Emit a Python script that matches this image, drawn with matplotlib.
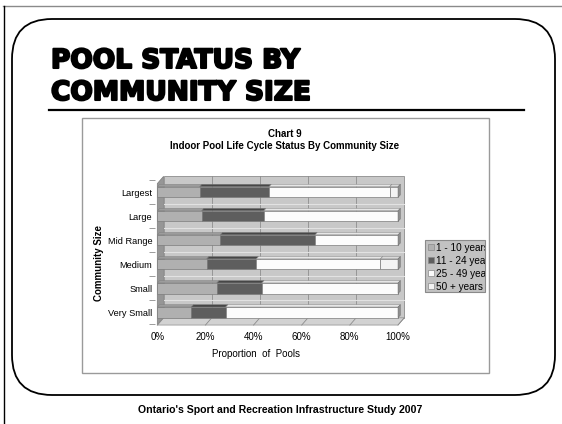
import matplotlib
matplotlib.use("Agg")
import matplotlib.pyplot as plt
import matplotlib.patheffects as pe
from matplotlib.patches import Rectangle, Polygon, FancyBboxPatch, Patch
import numpy as np

plt.rcParams['font.family'] = ['Liberation Sans', 'DejaVu Sans']

# data (percent of pools per community size), top to bottom as drawn
categories = ['Largest', 'Large', 'Mid Range', 'Medium', 'Small', 'Very Small']
age_groups = ['1 - 10 years', '11 - 24 years', '25 - 49 years', '50 + years']
yrs_1_10 = [17.6, 18.4, 26.2, 20.5, 24.7, 14.1]
yrs_11_24 = [28.8, 25.8, 39.3, 20.6, 18.7, 14.3]
yrs_25_49 = [50.1, 55.8, 34.5, 51.6, 56.6, 71.6]
yrs_50_up = [3.5, 0.0, 0.0, 7.3, 0.0, 0.0]
x_ticks = [0, 20, 40, 60, 80, 100]
x_tick_labels = ['0%', '20%', '40%', '60%', '80%', '100%']

face_colors = ['#b0b0b0', '#5e5e5e', '#fcfcfc', '#f3f3f3']
top_colors = ['#9c9c9c', '#474747', '#e6e6e6', '#dadada']

W, H = 562, 424
fig = plt.figure(figsize=(W / 100, H / 100), dpi=100)

# page decoration in pixel coordinates
bg = fig.add_axes([0, 0, 1, 1])
bg.set_xlim(0, W)
bg.set_ylim(H, 0)
bg.axis('off')
bg.plot([3, W], [6, 6], color='#8a8a8a', lw=1)
bg.plot([3.5, 3.5], [6, H], color='black', lw=1)
bg.add_patch(FancyBboxPatch((12, 19), 543, 376, boxstyle='round,pad=0,rounding_size=40',
                            fc='white', ec='black', lw=1.3))
title_kw = dict(fontsize=19, fontweight='bold', family='DejaVu Sans', va='baseline',
                path_effects=[pe.withStroke(linewidth=1.5, foreground='black')])
bg.text(51, 68, 'POOL STATUS BY', **title_kw)
bg.text(51, 100, 'COMMUNITY SIZE', **title_kw)
bg.plot([49, 524], [110, 110], color='black', lw=1.6)
bg.add_patch(Rectangle((82, 118), 407, 255, fc='white', ec='#9a9a9a', lw=1))
bg.text(285, 134, 'Chart 9', ha='center', va='center', fontsize=7, fontweight='bold')
bg.text(285, 146, 'Indoor Pool Life Cycle Status By Community Size', ha='center', va='center',
        fontsize=7, fontweight='bold')
bg.text(280, 410, "Ontario's Sport and Recreation Infrastructure Study 2007", ha='center', va='center',
        fontsize=7.6, fontweight='bold')

# legend box (labels get clipped by the box, like the original)
leg_box = Rectangle((425, 240), 60, 52, fc='#c2c2c2', ec='#8a8a8a', lw=0.8)
bg.add_patch(leg_box)

# chart axes, placed so data maps onto the reference pixels
x0px, x100px = 157.3, 398.0
y0px, y5px = 312.3, 192.0
sx = (x100px - x0px) / 100
sy = (y0px - y5px) / 5
L, R, T, B = 155, 415, 170, 330
ax = fig.add_axes([L / W, 1 - B / H, (R - L) / W, (B - T) / H])
ax.set_xlim((L - x0px) / sx, (R - x0px) / sx)
ax.set_ylim(-(B - y0px) / sy, (y0px - T) / sy)
for s in ax.spines.values():
    s.set_visible(False)
ax.patch.set_alpha(0)

dx, dz = 2.6, 0.3          # wall depth
floor_y = -0.53
wall_top = 5.65

# back wall, gridlines, side wall, floor
ax.add_patch(Rectangle((dx, floor_y + dz), 100, wall_top - floor_y - dz,
                       fc='#c8c8c8', ec='#8c8c8c', lw=0.6, zorder=0))
for xt in x_ticks[1:-1]:
    ax.plot([xt + dx, xt + dx], [floor_y + dz, wall_top], color='#8e8e8e', lw=0.6, zorder=0.5)
for k in range(5):
    ax.plot([dx, 100 + dx], [k + 0.5, k + 0.5], color='#e2e2e2', lw=0.8, zorder=0.5)
ax.add_patch(Polygon([(0, floor_y), (dx, floor_y + dz), (dx, wall_top), (0, wall_top - dz)],
                     closed=True, fc='#969696', ec='#7a7a7a', lw=0.5, zorder=0.6))
ax.add_patch(Polygon([(0, floor_y), (100, floor_y), (100 + dx, floor_y + dz), (dx, floor_y + dz)],
                     closed=True, fc='#d2d2d2', ec='#8c8c8c', lw=0.5, zorder=0.6))
for xt in x_ticks:
    ax.plot([xt, xt + dx], [floor_y, floor_y + dz], color='#8c8c8c', lw=0.6, zorder=0.7)

# bars: front faces via barh, plus thin 3D top / end faces
ypos = np.arange(len(categories))[::-1]
series = [yrs_1_10, yrs_11_24, yrs_25_49, yrs_50_up]
bh = 0.22
bdx, bdz = 1.0, 0.1
left = np.zeros(len(categories))
for vals, fc, tc, name in zip(series, face_colors, top_colors, age_groups):
    vals = np.array(vals)
    ax.barh(ypos, vals, left=left, height=2 * bh, color=fc, edgecolor='#7c7c7c',
            linewidth=0.5, zorder=2, label=name)
    for y, l, v in zip(ypos, left, vals):
        if v <= 0:
            continue
        ax.add_patch(Polygon([(l, y + bh), (l + v, y + bh), (l + v + bdx, y + bh + bdz),
                              (l + bdx, y + bh + bdz)], closed=True, fc=tc, ec='#7c7c7c',
                             lw=0.3, zorder=2))
    left = left + vals
for y, total in zip(ypos, left):
    ax.add_patch(Polygon([(total, y - bh), (total + bdx, y - bh + bdz), (total + bdx, y + bh + bdz),
                          (total, y + bh)], closed=True, fc='#8e8e8e', ec='#6a6a6a', lw=0.3, zorder=2))

ax.set_xticks(x_ticks)
ax.set_xticklabels(x_tick_labels, fontsize=7)
ax.tick_params(axis='x', length=0, pad=1.2)
ax.set_yticks(ypos)
ax.set_yticklabels(categories, fontsize=6.7)
ax.set_yticks(np.arange(-0.5, 6, 1), minor=True)
ax.tick_params(axis='y', which='major', length=0, pad=2)
ax.tick_params(axis='y', which='minor', length=4, width=0.6, color='#8c8c8c', direction='out')

ax.set_xlabel('Proportion  of  Pools', fontsize=7)
ax.set_ylabel('Community Size', fontsize=7, fontweight='bold')
ax.xaxis.set_label_coords((256 - L) / (R - L), (B - 349) / (B - T))
ax.yaxis.set_label_coords((104.5 - L) / (R - L), (B - 263) / (B - T))

handles = [Patch(fc=c, ec='#8a8a8a', lw=0.5) for c in face_colors]
leg = fig.legend(handles, age_groups, loc='upper left', bbox_to_anchor=(425.5 / W, 1 - 240.5 / H),
                 frameon=False, fontsize=7.2, handlelength=0.55, handleheight=0.55,
                 handletextpad=0.25, borderpad=0.25, labelspacing=0.3, borderaxespad=0)
for t in leg.get_texts():
    t.set_clip_path(leg_box)

fig.savefig('out.png', dpi=100)
